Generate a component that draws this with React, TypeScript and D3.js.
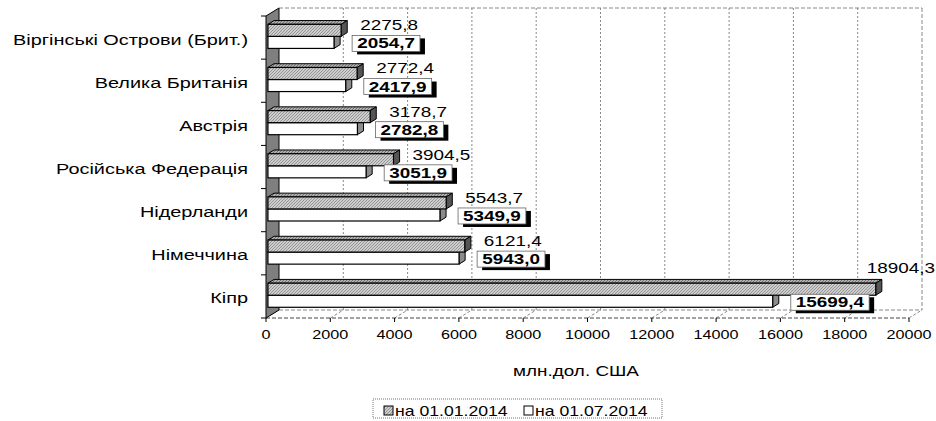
import React from 'react';
import * as d3 from 'd3';

const categories = [
  'Віргінські Острови (Брит.)',
  'Велика Британія',
  'Австрія',
  'Російська Федерація',
  'Нідерланди',
  'Німеччина',
  'Кіпр',
];
const seriesNames = ['на 01.01.2014', 'на 01.07.2014'];
const valuesJan = [2275.8, 2772.4, 3178.7, 3904.5, 5543.7, 6121.4, 18904.3];
const valuesJul = [2054.7, 2417.9, 2782.8, 3051.9, 5349.9, 5943.0, 15699.4];
const xTicks = [0, 2000, 4000, 6000, 8000, 10000, 12000, 14000, 16000, 18000, 20000];
const axisTitle = 'млн.дол. США';

const W = 936;
const H = 421;
const FONT = '"Liberation Sans", Arial, sans-serif';
const SX = 1.35;
const DX = 13;
const DY = -8;
const D0 = 0.15;
const D1 = 0.62;

const fmt = (v: number) => d3.format('.1f')(v).replace('.', ',');
const estWidth = (s: string, size: number) =>
  s.split('').reduce((a, c) => a + (c === ',' || c === '.' ? 0.28 : 0.556), 0) * size * SX;

function T(props: { x: number; y: number; size: number; anchor?: string; bold?: boolean; children: React.ReactNode; sx?: number }) {
  const { x, y, size, anchor = 'start', bold = false, children, sx = SX } = props;
  return (
    <text
      transform={`translate(${x},${y}) scale(${sx},1)`}
      fontSize={size}
      fontFamily={FONT}
      fontWeight={bold ? 'bold' : 'normal'}
      textAnchor={anchor}
      fill="#000"
    >
      {children}
    </text>
  );
}

export default function App() {
  const x = d3.scaleLinear().domain([0, 20000]).range([266, 909]);
  const y = d3.scaleBand<string>().domain(categories).range([16, 318]);
  const sub = d3.scaleBand<string>().domain(seriesNames).range([0, y.bandwidth()]).paddingInner(0).paddingOuter(0.79);
  const [y0, y1] = y.range();
  const x0 = x(0);
  const x1 = x(20000);
  const bh = sub.bandwidth();
  const ox = D0 * DX;
  const oy = D0 * DY;
  const bx = (D1 - D0) * DX;
  const by = (D1 - D0) * DY;

  const bar = (v: number, top: number, kind: 'h' | 'w', key: string) => {
    const fx0 = x0 + ox;
    const fy0 = top + oy;
    const fx1 = x(v) + ox;
    const topPts = [[fx0, fy0], [fx1, fy0], [fx1 + bx, fy0 + by], [fx0 + bx, fy0 + by]];
    const sidePts = [[fx1, fy0], [fx1 + bx, fy0 + by], [fx1 + bx, fy0 + by + bh], [fx1, fy0 + bh]];
    const p = (pts: number[][]) => pts.map((q) => q.join(',')).join(' ');
    return (
      <g key={key}>
        <polygon points={p(topPts)} fill={kind === 'h' ? 'url(#hatchDark)' : '#e8e8e8'} stroke="#000" strokeWidth={1} />
        <polygon points={p(sidePts)} fill={kind === 'h' ? '#555' : '#8c8c8c'} stroke="#000" strokeWidth={1} />
        <rect x={fx0} y={fy0} width={fx1 - fx0} height={bh} fill={kind === 'h' ? 'url(#hatch)' : '#fff'} stroke="#000" strokeWidth={1.2} />
      </g>
    );
  };

  return (
    <svg width={W} height={H} style={{ position: 'absolute', left: 0, top: 0, background: '#fff' }}>
      <defs>
        <pattern id="hatch" width={3} height={3} patternUnits="userSpaceOnUse">
          <rect width={3} height={3} fill="#cdcdcd" />
          <path d="M0,3 L3,0 M-1,1 L1,-1 M2,4 L4,2" stroke="#8f8f8f" strokeWidth={0.9} />
        </pattern>
        <pattern id="hatchDark" width={3} height={3} patternUnits="userSpaceOnUse">
          <rect width={3} height={3} fill="#b0b0b0" />
          <path d="M0,3 L3,0 M-1,1 L1,-1 M2,4 L4,2" stroke="#6a6a6a" strokeWidth={0.9} />
        </pattern>
      </defs>

      {/* back wall */}
      <rect x={x0 + DX} y={y0 + DY} width={x1 - x0} height={y1 - y0} fill="#fff" />
      <line x1={x0 + DX} x2={x1 + DX} y1={y0 + DY} y2={y0 + DY} stroke="#888" strokeDasharray="4,2" />
      <line x1={x1 + DX} x2={x1 + DX} y1={y0 + DY} y2={y1 + DY} stroke="#888" strokeDasharray="4,2" />
      {xTicks.slice(1, -1).map((t) => (
        <line key={`g${t}`} x1={x(t) + DX} x2={x(t) + DX} y1={y0 + DY} y2={y1 + DY} stroke="#888" strokeDasharray="2,2" />
      ))}

      {/* floor */}
      <line x1={x0 + DX} x2={x1 + DX} y1={y1 + DY} y2={y1 + DY} stroke="#888" strokeDasharray="4,2" />
      {xTicks.map((t) => (
        <line key={`f${t}`} x1={x(t)} x2={x(t) + DX} y1={y1} y2={y1 + DY} stroke="#888" strokeDasharray="3,2" />
      ))}
      <line x1={x0} x2={x1} y1={y1} y2={y1} stroke="#444" strokeDasharray="4,2" />
      {xTicks.map((t) => (
        <line key={`t${t}`} x1={x(t)} x2={x(t)} y1={y1} y2={y1 + 4} stroke="#000" />
      ))}

      {/* left wall */}
      <polygon
        points={`${x0},${y0} ${x0 + DX},${y0 + DY} ${x0 + DX},${y1 + DY} ${x0},${y1}`}
        fill="#7f7f7f"
        stroke="#000"
        strokeWidth={1}
      />
      {d3.range(categories.length + 1).map((i) => {
        const yy = y0 + i * y.step();
        return <line key={`lt${i}`} x1={x0 - 5} x2={x0} y1={yy} y2={yy} stroke="#000" />;
      })}

      {/* bars */}
      {categories.map((c, i) => {
        const top = y(c)!;
        return (
          <g key={c}>
            {bar(valuesJul[i], top + sub(seriesNames[1])!, 'w', 'w')}
            {bar(valuesJan[i], top + sub(seriesNames[0])!, 'h', 'h')}
          </g>
        );
      })}

      {/* labels */}
      {categories.map((c, i) => {
        const top = y(c)!;
        const hTop = top + sub(seriesNames[0])! + oy;
        const wTop = top + sub(seriesNames[1])! + oy;
        const sJan = fmt(valuesJan[i]);
        const sJul = fmt(valuesJul[i]);
        let hx = x(valuesJan[i]) + ox + bx + 13;
        let hy = hTop + 1 + 5;
        let anchor = 'start';
        const wJan = estWidth(sJan, 14);
        if (hx + wJan > W - 2) {
          hx = W - 1;
          anchor = 'end';
          hy -= 16;
        }
        const bw = estWidth(sJul, 14) + 10;
        const bxl = x(valuesJul[i]) + ox + bx + 12;
        const bcy = wTop + bh / 2 + 1;
        return (
          <g key={`lab${c}`}>
            <T x={hx} y={hy} size={14} anchor={anchor}>{sJan}</T>
            <rect x={bxl + 5} y={bcy - 8 + 3} width={bw} height={16} fill="#000" />
            <rect x={bxl} y={bcy - 8} width={bw} height={16} fill="#fff" stroke="#666" strokeWidth={0.8} />
            <T x={bxl + bw / 2} y={bcy + 5} size={14} anchor="middle" bold>{sJul}</T>
          </g>
        );
      })}

      {/* category labels */}
      {categories.map((c) => (
        <T key={`cl${c}`} x={248} y={y(c)! + y.bandwidth() / 2 + 7} size={14} anchor="end" sx={1.42}>{c}</T>
      ))}

      {/* x tick labels */}
      {xTicks.map((t) => (
        <T key={`xl${t}`} x={x(t)} y={339} size={12} anchor="middle">{String(t)}</T>
      ))}

      <T x={576} y={376} size={14} anchor="middle">{axisTitle}</T>

      {/* legend */}
      <rect x={373} y={399} width={289} height={19} fill="#fff" stroke="#777" strokeDasharray="1,1" />
      <rect x={384} y={406} width={9} height={9} fill="url(#hatch)" stroke="#000" />
      <T x={395} y={416} size={14} sx={1.26}>{seriesNames[0]}</T>
      <rect x={524} y={406} width={9} height={9} fill="#fff" stroke="#000" />
      <T x={535} y={416} size={14} sx={1.26}>{seriesNames[1]}</T>
    </svg>
  );
}
